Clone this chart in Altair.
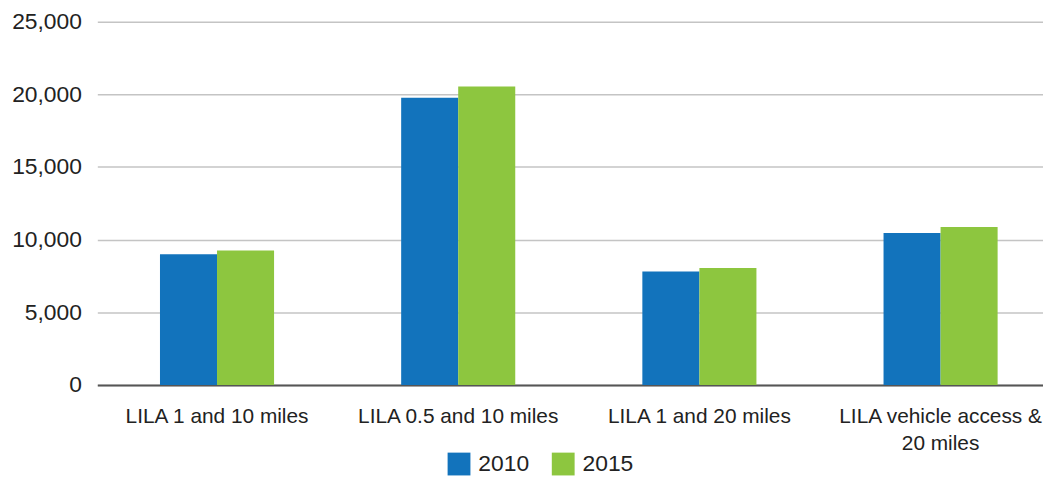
import altair as alt
import pandas as pd

categories = ["LILA 1 and 10 miles", "LILA 0.5 and 10 miles", "LILA 1 and 20 miles", "LILA vehicle access & 20 miles"]
values_2010 = [9000, 19770, 7800, 10460]
values_2015 = [9250, 20540, 8050, 10860]
years = ["2010", "2015"]

rows = []
for c, a, b in zip(categories, values_2010, values_2015):
    rows.append({"cat": c, "year": years[0], "value": a})
    rows.append({"cat": c, "year": years[1], "value": b})
df = pd.DataFrame(rows)

font = "Liberation Sans"

chart = alt.Chart(df).mark_bar().encode(
    x=alt.X("cat:N", sort=categories, title=None,
            scale=alt.Scale(paddingInner=0.527, paddingOuter=0.224, align=0.58),
            axis=alt.Axis(labelAngle=0, labelFontSize=21, labelFont=font, labelColor="#222222",
                          labelPadding=21, labelLineHeight=27, ticks=False, labelLimit=400,
                          domainColor="#555555", domainWidth=2,
                          labelExpr="datum.label == 'LILA vehicle access & 20 miles' ? ['LILA vehicle access &', '20 miles'] : datum.label")),
    xOffset=alt.XOffset("year:N", scale=alt.Scale(paddingInner=0, paddingOuter=0)),
    y=alt.Y("value:Q", title=None, scale=alt.Scale(domain=[0, 25000], nice=False),
            axis=alt.Axis(values=[0, 5000, 10000, 15000, 20000, 25000], format=",.0f",
                          labelFontSize=23, labelFont=font, labelColor="#222222",
                          labelPadding=16, ticks=False, domain=False,
                          gridColor="#c4c4c4", gridWidth=1.5)),
    color=alt.Color("year:N", title=None,
                    scale=alt.Scale(domain=years, range=["#1273BC", "#8DC63F"]),
                    legend=alt.Legend(orient="none", legendX=353, legendY=434, direction="horizontal",
                                      symbolType="square", symbolSize=529, symbolStrokeWidth=0,
                                      labelFontSize=23, labelFont=font, labelColor="#222222",
                                      columnPadding=22, labelOffset=8)),
).properties(
    width=953, height=366,
    autosize=alt.AutoSizeParams(type="none"),
    padding={"left": 90, "top": 12, "right": 0, "bottom": 90},
).configure_view(stroke=None).configure_axisX(grid=False)

chart.save("out.html", embed_options={"renderer": "svg", "actions": False})
